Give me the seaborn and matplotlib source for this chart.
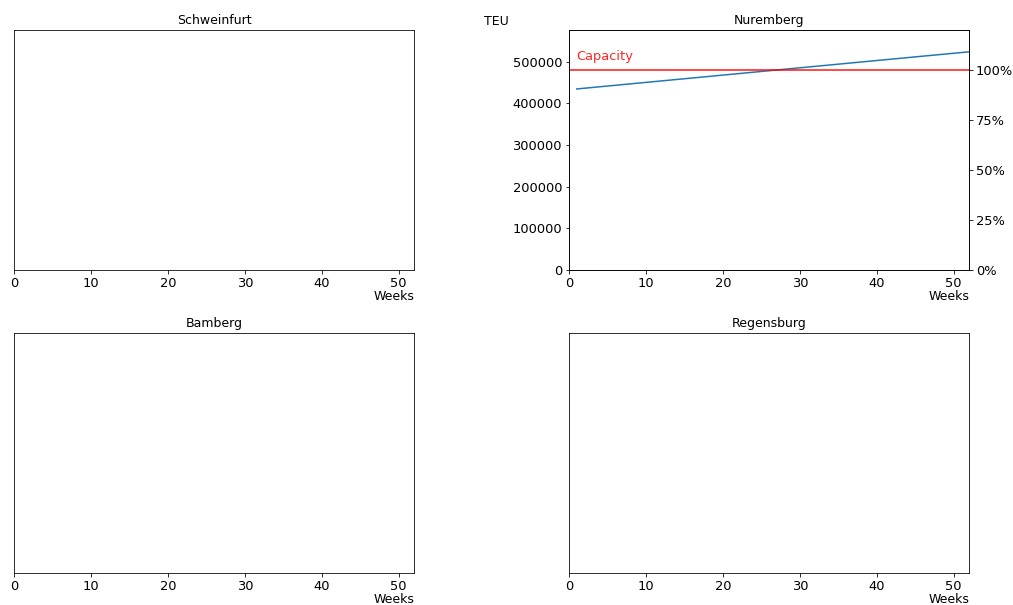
import matplotlib
matplotlib.use("Agg")
import matplotlib.pyplot as plt
import matplotlib.ticker as mtick
import seaborn as sns
import pandas as pd

# terminals shown in the grid
terminals = ["Schweinfurt", "Nuremberg", "Bamberg", "Regensburg"]

# Nuremberg demand forecast (TEU)
weeks = [1, 10, 20, 30, 40, 52]
teu = [434700, 450500, 468000, 485500, 503000, 523900]
capacity = 480000

# original was rendered at 72 dpi -> scale for 100 dpi
s = 0.72
tick_fs = 9.4
fs = 9.0
plt.rcParams.update({
    "font.size": fs,
    "axes.linewidth": 0.8 * s,
    "xtick.major.width": 0.8 * s,
    "ytick.major.width": 0.8 * s,
    "xtick.major.size": 3.5 * s,
    "ytick.major.size": 3.5 * s,
    "xtick.major.pad": 3.5 * s,
    "ytick.major.pad": 3.5 * s,
})

fig = plt.figure(figsize=(10.13, 6.05), dpi=100)
W, H = 1013, 605
boxes = {
    "Schweinfurt": (14, 30),
    "Nuremberg": (569, 30),
    "Bamberg": (14, 333),
    "Regensburg": (569, 333),
}

data = pd.DataFrame({"week": weeks, "teu": teu})

for name in terminals:
    x0, y0 = boxes[name]
    ax = fig.add_axes([x0 / W, 1 - (y0 + 240) / H, 400 / W, 240 / H])
    ax.set_title(name, fontsize=fs, pad=6 * s)
    ax.set_xlim(0, 52)
    ax.set_xticks([0, 10, 20, 30, 40, 50])
    ax.tick_params(labelsize=tick_fs)
    ax.set_xlabel("Weeks", loc="right", fontsize=fs, labelpad=0)

    if name != "Nuremberg":
        ax.set_yticks([])
        continue

    sns.lineplot(data=data, x="week", y="teu", ax=ax, color="#1f77b4",
                 linewidth=1.5 * s)
    top = max(teu) * 1.1
    ax.set_ylim(0, top)
    ax.set_xlim(0, 52)
    ax.axhline(capacity, color="red", alpha=0.7, linewidth=2 * s)
    ax.text(1, capacity * 1.05, "Capacity", color="red", alpha=0.85,
            fontsize=tick_fs)
    ax.set_ylabel("TEU", rotation=0, fontsize=fs, ha="left", va="bottom")
    ax.yaxis.set_label_coords(-0.213, 1.01)
    ax.set_xlabel("Weeks", loc="right", fontsize=fs, labelpad=0)

    ax2 = ax.twinx()
    ax2.set_ylim(0, top / capacity)
    ax2.set_yticks([0, 0.25, 0.5, 0.75, 1.0])
    ax2.yaxis.set_major_formatter(mtick.PercentFormatter(1.0, decimals=0))
    ax2.tick_params(labelsize=tick_fs)

fig.savefig("out.png", dpi=100)
